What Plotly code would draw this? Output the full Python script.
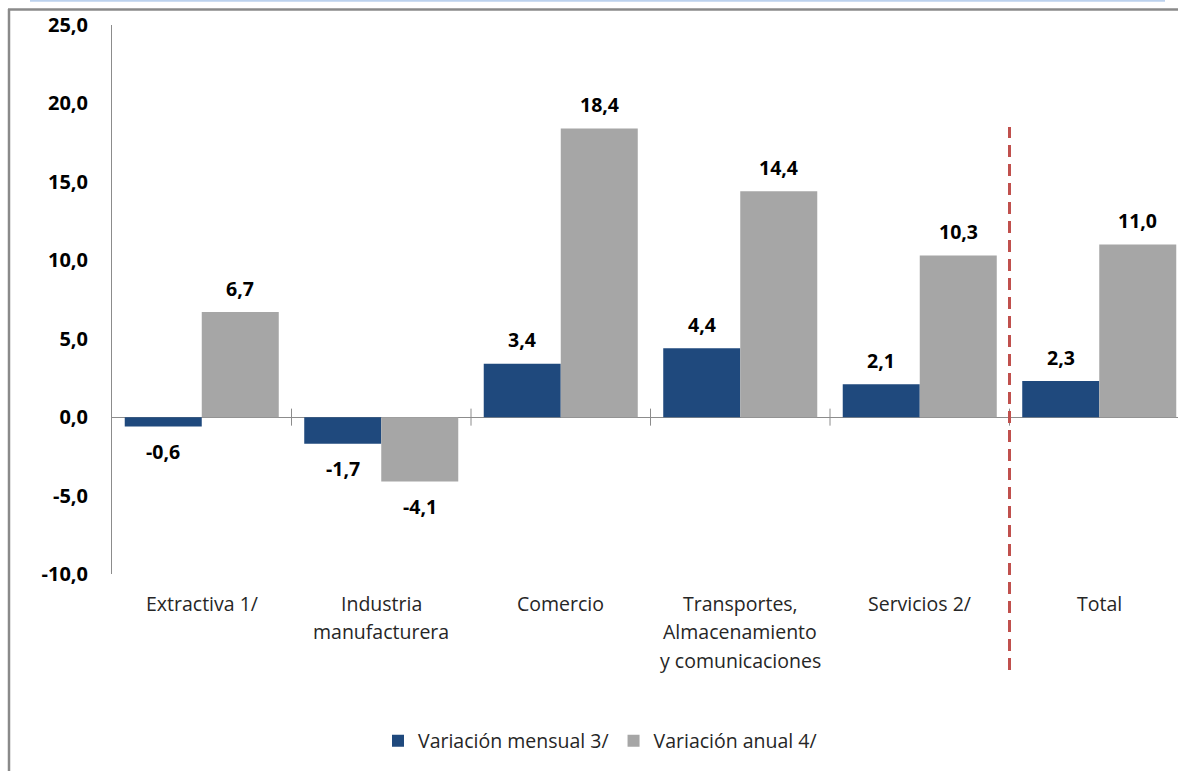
import plotly.graph_objects as go

categories = ["Extractiva 1/", "Industria<br>manufacturera", "Comercio",
              "Transportes,<br>Almacenamiento<br>y comunicaciones", "Servicios 2/", "Total"]
mensual = [-0.6, -1.7, 3.4, 4.4, 2.1, 2.3]
anual = [6.7, -4.1, 18.4, 14.4, 10.3, 11.0]
series_names = ["Variación mensual 3/", "Variación anual 4/"]
y_ticks = [-10, -5, 0, 5, 10, 15, 20, 25]

W, H = 1178, 771
ML, MR, MT, MB = 112, 0, 25, 197
PW, PH = W - ML - MR, H - MT - MB
CAT_PX = 179.5
XR = [-0.5, -0.5 + PW / CAT_PX]
YR = [-10, 25]
BARGAP = 0.142
OFF = (1 - BARGAP) / 4

FONT = "'Open Sans', Lato, sans-serif"
BLUE, GRAY = "#1F497D", "#A6A6A6"


def px_x(p):
    return (p - ML) / PW


def px_y(p):
    return (H - MB - p) / PH


def fmt(v):
    return f"{v:.1f}".replace(".", ",")


xs = list(range(len(categories)))

fig = go.Figure()
fig.add_trace(go.Bar(x=xs, y=mensual, name=series_names[0], marker=dict(color=BLUE, line=dict(width=0))))
fig.add_trace(go.Bar(x=xs, y=anual, name=series_names[1], marker=dict(color=GRAY, line=dict(width=0))))

annotations = []
# data labels
for series, sign in ((mensual, -1), (anual, 1)):
    for i, v in enumerate(series):
        annotations.append(dict(
            x=i + sign * OFF, y=v, xref="x", yref="y", text=f"<b>{fmt(v)}</b>",
            showarrow=False, yshift=24 if v >= 0 else -25, yanchor="middle",
            font=dict(family=FONT, size=19.5, color="#000000")))

# category labels (line spacing as in the reference)
for i, cat in enumerate(categories):
    for k, line in enumerate(cat.split("<br>")):
        annotations.append(dict(
            x=i, y=px_y(603 + 28.5 * k), xref="x", yref="paper", text=line,
            showarrow=False, yanchor="middle", xanchor="center",
            font=dict(family=FONT, size=19.5, color="#262626")))

shapes = []
# tick marks crossing the zero line at category boundaries
for i in range(1, len(categories)):
    shapes.append(dict(type="line", xref="x", yref="y", x0=i - 0.5, x1=i - 0.5,
                       y0=-8.5 / 15.68, y1=8.5 / 15.68, line=dict(color="#8C8C8C", width=1)))

# red dashed separator before Total
xsep = (len(categories) - 1.5 - XR[0]) / (XR[1] - XR[0])
shapes.append(dict(type="line", xref="paper", yref="paper", x0=xsep, x1=xsep,
                   y0=px_y(670), y1=px_y(127), line=dict(color="#C0504D", width=3, dash="12px,7px")))

# outer frame
shapes.append(dict(type="line", xref="paper", yref="paper", x0=px_x(8), x1=px_x(1180),
                   y0=px_y(9.5), y1=px_y(9.5), line=dict(color="#8A8A8A", width=2.5)))
shapes.append(dict(type="line", xref="paper", yref="paper", x0=px_x(9), x1=px_x(9),
                   y0=px_y(9), y1=px_y(775), line=dict(color="#8A8A8A", width=2.5)))
shapes.append(dict(type="line", xref="paper", yref="paper", x0=px_x(30), x1=px_x(1165),
                   y0=px_y(0.8), y1=px_y(0.8), line=dict(color="#BCD2EE", width=2)))

fig.update_layout(
    width=W, height=H,
    margin=dict(l=ML, r=MR, t=MT, b=MB, pad=0),
    paper_bgcolor="white", plot_bgcolor="white",
    barmode="group", bargap=BARGAP, bargroupgap=0,
    separators=",.",
    font=dict(family=FONT, color="#262626"),
    xaxis=dict(range=XR, showticklabels=False, ticks="", showline=False,
               showgrid=False, zeroline=False, fixedrange=True),
    yaxis=dict(range=YR, tickvals=y_ticks, ticktext=[fmt(v) for v in y_ticks],
               showgrid=False, showline=True, linecolor="#8C8C8C", linewidth=1, ticks="",
               zeroline=True, zerolinecolor="#8C8C8C", zerolinewidth=1,
               tickfont=dict(family=FONT, size=20, color="#000000", weight="bold"),
               ticklabelstandoff=19),
    legend=dict(orientation="h", xref="container", yref="container",
                x=600 / W, y=1 - 741 / H, xanchor="center", yanchor="middle",
                font=dict(family=FONT, size=19.5, color="#262626"),
                itemwidth=30, tracegroupgap=0, bgcolor="rgba(0,0,0,0)"),
    annotations=annotations,
    shapes=shapes,
)

fig.write_html("out.html", config={"displayModeBar": False},
               post_script="document.body.style.margin='0';document.body.style.overflow='hidden';")
